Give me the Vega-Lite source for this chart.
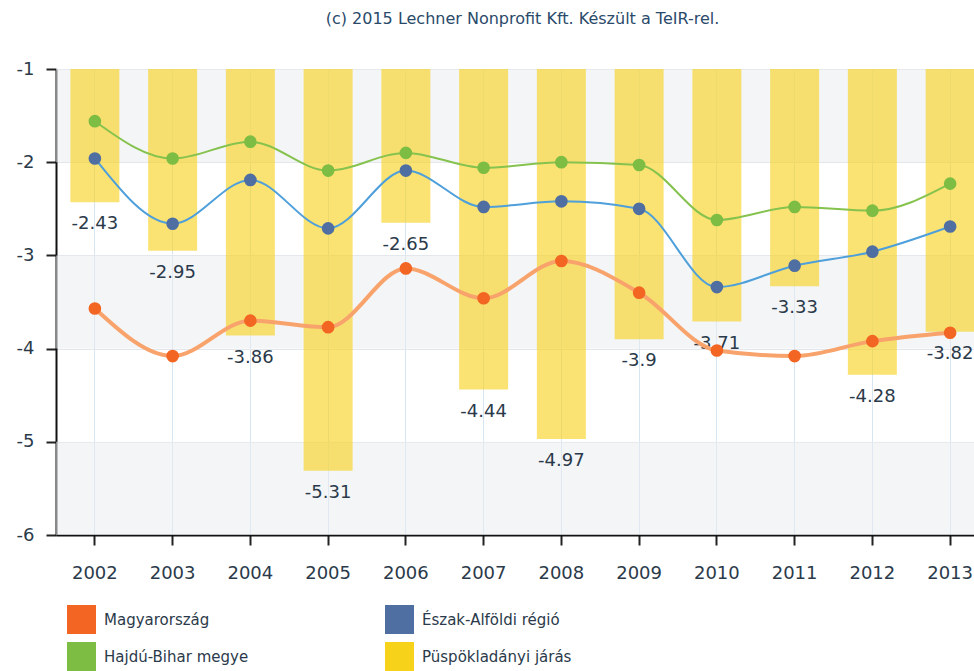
{
  "$schema": "https://vega.github.io/schema/vega-lite/v6.json",
  "width": 933,
  "height": 466,
  "autosize": "none",
  "padding": {"left": 56, "top": 69, "right": 0, "bottom": 136},
  "background": "white",
  "title": {
    "text": "(c) 2015 Lechner Nonprofit Kft. Készült a TeIR-rel.",
    "anchor": "middle",
    "offset": 33,
    "font": "DejaVu Sans",
    "fontSize": 16,
    "fontWeight": "normal",
    "color": "#2A4A6A"
  },
  "config": {
    "view": {"stroke": null},
    "font": "DejaVu Sans"
  },
  "datasets": {
    "bands": [
      {"lo": -2, "hi": -1},
      {"lo": -4, "hi": -3},
      {"lo": -6, "hi": -5}
    ],
    "main": [
      {"year": "2002", "series": "Püspökladányi járás", "value": -2.43},
      {"year": "2003", "series": "Püspökladányi járás", "value": -2.95},
      {"year": "2004", "series": "Püspökladányi járás", "value": -3.86},
      {"year": "2005", "series": "Püspökladányi járás", "value": -5.31},
      {"year": "2006", "series": "Püspökladányi járás", "value": -2.65},
      {"year": "2007", "series": "Püspökladányi járás", "value": -4.44},
      {"year": "2008", "series": "Püspökladányi járás", "value": -4.97},
      {"year": "2009", "series": "Püspökladányi járás", "value": -3.9},
      {"year": "2010", "series": "Püspökladányi járás", "value": -3.71},
      {"year": "2011", "series": "Püspökladányi járás", "value": -3.33},
      {"year": "2012", "series": "Püspökladányi járás", "value": -4.28},
      {"year": "2013", "series": "Püspökladányi járás", "value": -3.82},
      {"year": "2002", "series": "Hajdú-Bihar megye", "value": -1.56},
      {"year": "2003", "series": "Hajdú-Bihar megye", "value": -1.96},
      {"year": "2004", "series": "Hajdú-Bihar megye", "value": -1.78},
      {"year": "2005", "series": "Hajdú-Bihar megye", "value": -2.09},
      {"year": "2006", "series": "Hajdú-Bihar megye", "value": -1.9},
      {"year": "2007", "series": "Hajdú-Bihar megye", "value": -2.06},
      {"year": "2008", "series": "Hajdú-Bihar megye", "value": -2.0},
      {"year": "2009", "series": "Hajdú-Bihar megye", "value": -2.03},
      {"year": "2010", "series": "Hajdú-Bihar megye", "value": -2.62},
      {"year": "2011", "series": "Hajdú-Bihar megye", "value": -2.48},
      {"year": "2012", "series": "Hajdú-Bihar megye", "value": -2.52},
      {"year": "2013", "series": "Hajdú-Bihar megye", "value": -2.23},
      {"year": "2002", "series": "Észak-Alföldi régió", "value": -1.96},
      {"year": "2003", "series": "Észak-Alföldi régió", "value": -2.66},
      {"year": "2004", "series": "Észak-Alföldi régió", "value": -2.19},
      {"year": "2005", "series": "Észak-Alföldi régió", "value": -2.71},
      {"year": "2006", "series": "Észak-Alföldi régió", "value": -2.09},
      {"year": "2007", "series": "Észak-Alföldi régió", "value": -2.48},
      {"year": "2008", "series": "Észak-Alföldi régió", "value": -2.42},
      {"year": "2009", "series": "Észak-Alföldi régió", "value": -2.5},
      {"year": "2010", "series": "Észak-Alföldi régió", "value": -3.34},
      {"year": "2011", "series": "Észak-Alföldi régió", "value": -3.11},
      {"year": "2012", "series": "Észak-Alföldi régió", "value": -2.96},
      {"year": "2013", "series": "Észak-Alföldi régió", "value": -2.69},
      {"year": "2002", "series": "Magyarország", "value": -3.57},
      {"year": "2003", "series": "Magyarország", "value": -4.08},
      {"year": "2004", "series": "Magyarország", "value": -3.7},
      {"year": "2005", "series": "Magyarország", "value": -3.77},
      {"year": "2006", "series": "Magyarország", "value": -3.14},
      {"year": "2007", "series": "Magyarország", "value": -3.46},
      {"year": "2008", "series": "Magyarország", "value": -3.06},
      {"year": "2009", "series": "Magyarország", "value": -3.4},
      {"year": "2010", "series": "Magyarország", "value": -4.02},
      {"year": "2011", "series": "Magyarország", "value": -4.08},
      {"year": "2012", "series": "Magyarország", "value": -3.92},
      {"year": "2013", "series": "Magyarország", "value": -3.83}
    ]
  },
  "layer": [
    {
      "data": {"name": "bands"},
      "mark": {"type": "rect", "color": "#E9ECF1", "opacity": 0.55},
      "encoding": {
        "y": {"field": "lo", "type": "quantitative", "scale": {"domain": [-6, -1], "nice": false, "zero": false}},
        "y2": {"field": "hi"}
      }
    },
    {
      "data": {"name": "main"},
      "transform": [{"filter": "datum.series === 'Püspökladányi járás'"}],
      "mark": {"type": "bar", "opacity": 0.62},
      "encoding": {
        "x": {
          "field": "year", "type": "ordinal", "title": null,
          "scale": {"paddingInner": 0.37, "paddingOuter": 0.185},
          "axis": {
            "bandPosition": 0.5,
            "grid": true, "gridColor": "#D5E5F2", "gridWidth": 1,
            "domainColor": "#111", "domainWidth": 2,
            "tickColor": "#222", "tickSize": 10, "tickWidth": 2,
            "labelAngle": 0, "labelFontSize": 18, "labelColor": "#2B3A4A",
            "labelPadding": 19, "labelFont": "DejaVu Sans"
          }
        },
        "y": {
          "field": "value", "type": "quantitative", "title": null,
          "scale": {"domain": [-6, -1], "nice": false, "zero": false},
          "axis": {
            "values": [-1, -2, -3, -4, -5, -6],
            "labelExpr": "'' + datum.value",
            "grid": true, "gridColor": "#E3E6EB", "gridWidth": 1,
            "domainColor": "#111", "domainWidth": 2,
            "tickColor": "#222", "tickSize": 10, "tickWidth": 2,
            "labelFontSize": 18, "labelColor": "#2B3A4A",
            "labelPadding": 12, "labelFont": "DejaVu Sans"
          }
        },
        "y2": {"datum": -1},
        "color": {
          "field": "series", "type": "nominal", "title": null,
          "scale": {
            "domain": ["Magyarország", "Hajdú-Bihar megye", "Észak-Alföldi régió", "Püspökladányi járás"],
            "range": ["#F26522", "#7DBD43", "#4F6FA3", "#F7D21B"]
          },
          "legend": {
            "orient": "none", "legendX": 11, "legendY": 536,
            "columns": 2, "columnPadding": 136, "rowPadding": 8,
            "symbolType": "square", "symbolSize": 841, "symbolOpacity": 1,
            "symbolStrokeWidth": 0,
            "labelFontSize": 15, "labelColor": "#2B3A4A", "labelFont": "DejaVu Sans",
            "labelOffset": 8, "padding": 0, "labelLimit": 300
          }
        }
      }
    },
    {
      "data": {"name": "main"},
      "transform": [{"filter": "datum.series === 'Püspökladányi járás'"}],
      "mark": {"type": "text", "dy": 22, "fontSize": 18, "color": "#2B3A4A", "font": "DejaVu Sans", "baseline": "middle"},
      "encoding": {
        "x": {"field": "year", "type": "ordinal"},
        "y": {"field": "value", "type": "quantitative"},
        "text": {"field": "value", "type": "nominal"}
      }
    },
    {
      "data": {"name": "main"},
      "transform": [{"filter": "datum.series !== 'Püspökladányi járás'"}],
      "mark": {"type": "line", "interpolate": "monotone"},
      "encoding": {
        "x": {"field": "year", "type": "ordinal"},
        "y": {"field": "value", "type": "quantitative"},
        "stroke": {
          "field": "series", "type": "nominal", "legend": null,
          "scale": {
            "domain": ["Magyarország", "Észak-Alföldi régió", "Hajdú-Bihar megye"],
            "range": ["#F9A36C", "#4E9FDA", "#86C24E"]
          }
        },
        "strokeWidth": {"condition": {"test": "datum.series === 'Magyarország'", "value": 4}, "value": 2}
      }
    },
    {
      "data": {"name": "main"},
      "transform": [{"filter": "datum.series !== 'Püspökladányi járás'"}],
      "mark": {"type": "point", "filled": true, "size": 160, "opacity": 1},
      "encoding": {
        "x": {"field": "year", "type": "ordinal"},
        "y": {"field": "value", "type": "quantitative"},
        "color": {"field": "series", "type": "nominal"}
      }
    }
  ]
}
